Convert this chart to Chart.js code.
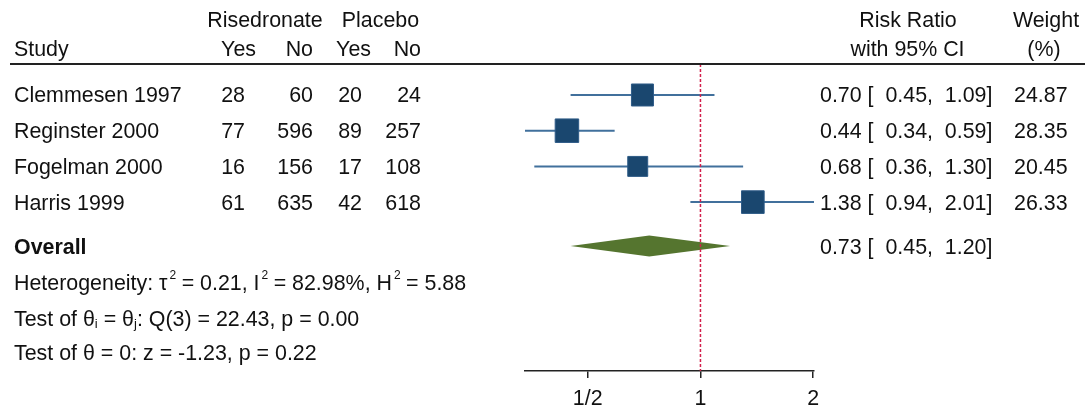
<!DOCTYPE html>
<html>
<head>
<meta charset="utf-8">
<script src="https://cdn.jsdelivr.net/npm/chart.js@4.4.0/dist/chart.umd.min.js"></script>
<style>
  html, body { margin: 0; padding: 0; background: #fff; }
  #forest { display: block; }
</style>
</head>
<body>
<canvas id="forest" width="1089" height="412"></canvas>
<script>
// data
const studies = ['Clemmesen 1997', 'Reginster 2000', 'Fogelman 2000', 'Harris 1999'];
const risYes = [28, 77, 16, 61];
const risNo = [60, 596, 156, 635];
const plaYes = [20, 89, 17, 42];
const plaNo = [24, 257, 108, 618];
const riskRatio = [0.70, 0.44, 0.68, 1.38];
const ciLow = [0.45, 0.34, 0.36, 0.94];
const ciHigh = [1.09, 0.59, 1.30, 2.01];
const weights = [24.87, 28.35, 20.45, 26.33];
const overall = [0.73, 0.45, 1.20]; // estimate, low, high
const xTicks = [0.5, 1, 2];
const xTickLabels = ['1/2', '1', '2'];

const FONT = '"Liberation Sans", Arial, sans-serif';
const FS = '21.4px ';
const TEXT = '#111';
const BLUE = '#1a476f';
const LINE_BLUE = '#41709c';
const GREEN = '#55752f';
const RED = '#d21f4b';

const yMin = 0.132;
const yMax = 8.73;
const rowY = studies.map((s, i) => i + 1);
const overallRow = 5.23;
const statRows = [6.24, 7.25, 8.2];

function fmt(v) {
  return v.toFixed(2);
}

function pad5(v) {
  const s = fmt(v);
  return s.length < 5 ? ' ' + s : s;
}

function squareRadius(w) {
  // Chart.js 'rect' side = radius * sqrt(2)
  return 3.12 * Math.sqrt(w);
}

// draws text made of plain / sup / sub pieces
function drawRich(ctx, x, y, parts) {
  let cx = x;
  parts.forEach(([t, kind]) => {
    if (kind === 'sup') {
      ctx.font = '12px ' + FONT;
      ctx.fillText(t, cx + 2, y - 11);
      cx += ctx.measureText(t).width + 1.5;
    } else if (kind === 'sub') {
      ctx.font = '13px ' + FONT;
      ctx.fillText(t, cx, y + 2);
      cx += ctx.measureText(t).width;
    } else {
      ctx.font = FS + FONT;
      ctx.fillText(t, cx, y);
      cx += ctx.measureText(t).width;
    }
  });
}

const forestTable = {
  id: 'forestTable',
  beforeDatasetsDraw(chart) {
    const { ctx, scales: { x, y } } = chart;
    const cy = y.getPixelForValue(overallRow);
    const half = 10.5;
    ctx.save();
    ctx.fillStyle = GREEN;
    ctx.beginPath();
    ctx.moveTo(x.getPixelForValue(overall[1]), cy);
    ctx.lineTo(x.getPixelForValue(overall[0]), cy - half);
    ctx.lineTo(x.getPixelForValue(overall[2]), cy);
    ctx.lineTo(x.getPixelForValue(overall[0]), cy + half);
    ctx.closePath();
    ctx.fill();
    ctx.restore();
  },
  afterDraw(chart) {
    const { ctx, scales: { y } } = chart;
    const base = v => y.getPixelForValue(v) + 7.5;
    ctx.save();
    ctx.fillStyle = TEXT;
    ctx.textBaseline = 'alphabetic';
    ctx.font = FS + FONT;

    // header
    ctx.textAlign = 'center';
    ctx.fillText('Risedronate', 265, 27);
    ctx.fillText('Placebo', 380.5, 27);
    ctx.fillText('Risk Ratio', 908, 27);
    ctx.fillText('Weight', 1046, 27);
    ctx.fillText('with 95% CI', 907.5, 56);
    ctx.fillText('(%)', 1044, 56);
    ctx.textAlign = 'left';
    ctx.fillText('Study', 14, 56);
    ctx.textAlign = 'right';
    ctx.fillText('Yes', 256, 56);
    ctx.fillText('No', 313, 56);
    ctx.fillText('Yes', 371, 56);
    ctx.fillText('No', 421, 56);

    // rule under header
    ctx.strokeStyle = '#222';
    ctx.lineWidth = 2;
    ctx.beginPath();
    ctx.moveTo(10, 64);
    ctx.lineTo(1085, 64);
    ctx.stroke();

    // study rows
    studies.forEach((name, i) => {
      const by = base(rowY[i]);
      ctx.textAlign = 'left';
      ctx.fillText(name, 14, by);
      ctx.fillText(fmt(riskRatio[i]) + ' [ ' + pad5(ciLow[i]) + ', ' + pad5(ciHigh[i]) + ']', 820, by);
      ctx.fillText(fmt(weights[i]), 1014, by);
      ctx.textAlign = 'right';
      ctx.fillText(String(risYes[i]), 245, by);
      ctx.fillText(String(risNo[i]), 313, by);
      ctx.fillText(String(plaYes[i]), 362, by);
      ctx.fillText(String(plaNo[i]), 421, by);
    });

    // overall
    const oy = base(overallRow);
    ctx.textAlign = 'left';
    ctx.font = 'bold ' + FS + FONT;
    ctx.fillText('Overall', 14, oy);
    ctx.font = FS + FONT;
    ctx.fillText(fmt(overall[0]) + ' [ ' + pad5(overall[1]) + ', ' + pad5(overall[2]) + ']', 820, oy);

    // heterogeneity and tests
    drawRich(ctx, 14, base(statRows[0]), [
      ['Heterogeneity: τ'], ['2', 'sup'], [' = 0.21, I'], ['2', 'sup'],
      [' = 82.98%, H'], ['2', 'sup'], [' = 5.88']
    ]);
    drawRich(ctx, 14, base(statRows[1]), [
      ['Test of θ'], ['i', 'sub'], [' = θ'], ['j', 'sub'], [': Q(3) = 22.43, p = 0.00']
    ]);
    drawRich(ctx, 14, base(statRows[2]), [
      ['Test of θ = 0: z = -1.23, p = 0.22']
    ]);
    ctx.restore();
  }
};

const ciDatasets = studies.map((name, i) => ({
  type: 'line',
  label: name,
  data: [{ x: ciLow[i], y: rowY[i] }, { x: ciHigh[i], y: rowY[i] }],
  borderColor: LINE_BLUE,
  borderWidth: 2,
  pointRadius: 0
}));

new Chart(document.getElementById('forest'), {
  type: 'scatter',
  data: {
    datasets: [
      {
        type: 'line',
        label: 'no effect',
        data: [{ x: 1, y: yMin }, { x: 1, y: yMax }],
        borderColor: RED,
        borderWidth: 1.5,
        borderDash: [3, 2],
        pointRadius: 0
      },
      {
        label: 'Risk ratio',
        data: riskRatio.map((v, i) => ({ x: v, y: rowY[i] })),
        pointStyle: 'rect',
        pointRadius: weights.map(squareRadius),
        pointHoverRadius: weights.map(squareRadius),
        backgroundColor: BLUE,
        borderColor: '#2e5b87',
        borderWidth: 1
      },
      ...ciDatasets
    ]
  },
  options: {
    responsive: false,
    animation: false,
    events: [],
    layout: {
      padding: { left: 525, right: 275, top: 64, bottom: 5 }
    },
    plugins: {
      legend: { display: false },
      tooltip: { enabled: false }
    },
    scales: {
      x: {
        type: 'logarithmic',
        position: 'bottom',
        min: 0.34,
        max: 2.01,
        bounds: 'data',
        afterBuildTicks(axis) {
          axis.ticks = xTicks.map(v => ({ value: v }));
        },
        afterFit(axis) {
          axis.height = 36;
        },
        border: { display: true, color: '#222', width: 1.5 },
        grid: {
          drawOnChartArea: false,
          drawTicks: true,
          tickLength: 7,
          color: '#222',
          lineWidth: 1.5
        },
        ticks: {
          color: TEXT,
          padding: 8,
          maxRotation: 0,
          autoSkip: false,
          font: { family: FONT, size: 21.4 },
          callback(value, index) {
            return xTickLabels[index];
          }
        }
      },
      y: {
        type: 'linear',
        display: false,
        reverse: true,
        min: yMin,
        max: yMax
      }
    }
  },
  plugins: [forestTable]
});
</script>
</body>
</html>
